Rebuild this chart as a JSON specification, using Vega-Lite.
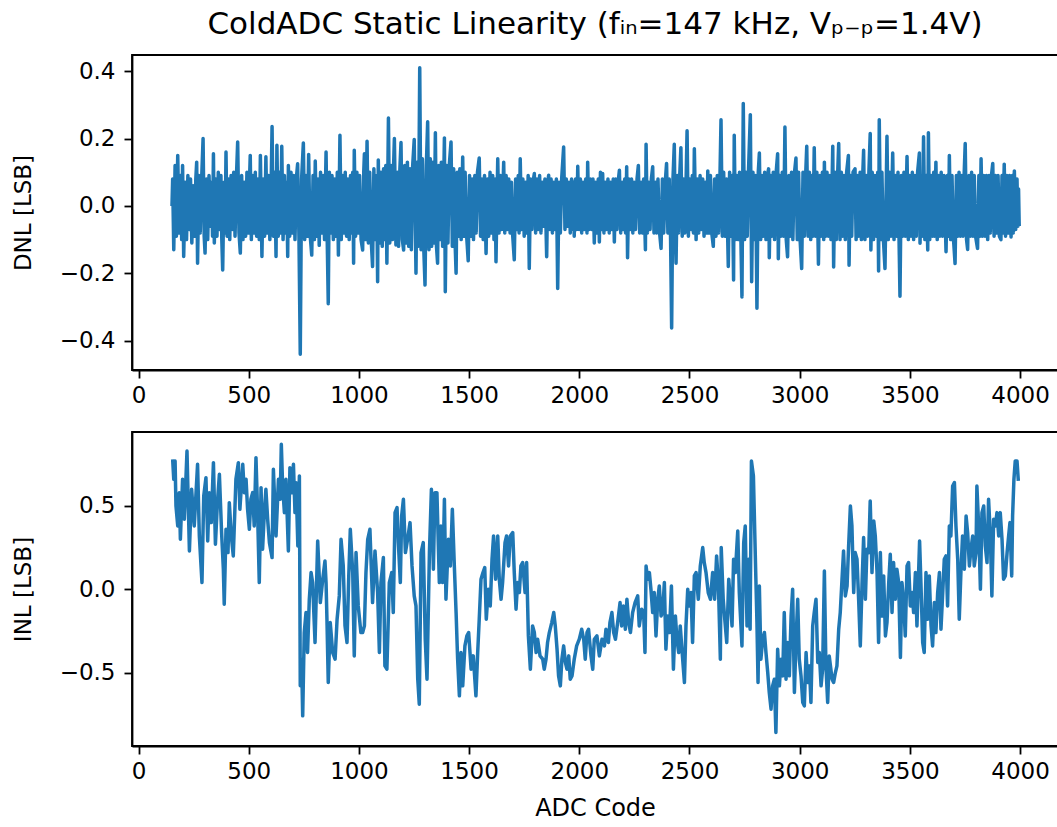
{
"$schema":"https://vega.github.io/schema/vega-lite/v6.json",
"background":"white",
"padding":{"left":11,"top":8,"right":0,"bottom":2},
"config":{
"font":"DejaVu Sans",
"view":{"stroke":"black","strokeWidth":1.8},
"axis":{"grid":false,"domainColor":"black","domainWidth":1.8,"tickColor":"black","tickWidth":1.8,"tickSize":8,"labelFont":"DejaVu Sans","labelFontSize":23,"labelColor":"black","titleFont":"DejaVu Sans","titleFontSize":24,"titleFontWeight":"normal","titleColor":"black"},
"axisX":{"labelPadding":6,"titlePadding":13},
"axisY":{"labelPadding":9,"titlePadding":24},
"line":{"color":"#1f77b4","strokeWidth":3.5,"strokeJoin":"round"}
},
"datasets":{
"dnl":[
{"c":152,"v":0.0},{"c":155,"v":0.08},{"c":160,"v":-0.13},{"c":166,"v":0.12},{"c":172,"v":-0.09},{"c":178,"v":0.15},{"c":184,"v":-0.08},{"c":190,"v":0.09},{"c":196,"v":-0.10},{"c":200,"v":0.12},{"c":205,"v":-0.15},{"c":212,"v":0.07},{"c":218,"v":-0.10},{"c":224,"v":0.09},{"c":230,"v":-0.07},{"c":236,"v":0.08},{"c":242,"v":-0.11},{"c":248,"v":0.06},{"c":254,"v":-0.09},{"c":260,"v":0.08},{"c":264,"v":0.13},{"c":268,"v":-0.17},{"c":274,"v":0.09},{"c":280,"v":-0.08},{"c":286,"v":0.07},{"c":293,"v":0.20},{"c":298,"v":-0.09},{"c":302,"v":-0.14},{"c":308,"v":0.08},{"c":314,"v":-0.10},{"c":320,"v":0.09},{"c":326,"v":-0.06},{"c":332,"v":0.07},{"c":336,"v":-0.09},{"c":340,"v":0.155},{"c":344,"v":-0.11},{"c":350,"v":0.08},{"c":356,"v":-0.09},{"c":362,"v":0.10},{"c":368,"v":-0.07},{"c":374,"v":0.09},{"c":378,"v":-0.10},{"c":382,"v":-0.19},{"c":388,"v":0.07},{"c":393,"v":-0.08},{"c":397,"v":0.16},{"c":402,"v":-0.09},{"c":408,"v":0.08},{"c":414,"v":-0.10},{"c":420,"v":0.09},{"c":426,"v":-0.07},{"c":432,"v":0.10},{"c":438,"v":-0.09},{"c":444,"v":0.08},{"c":450,"v":0.19},{"c":456,"v":-0.08},{"c":462,"v":-0.14},{"c":468,"v":0.09},{"c":474,"v":-0.10},{"c":480,"v":0.07},{"c":486,"v":-0.09},{"c":492,"v":0.10},{"c":498,"v":-0.08},{"c":503,"v":0.06},{"c":507,"v":0.15},{"c":512,"v":-0.10},{"c":518,"v":0.09},{"c":524,"v":-0.08},{"c":530,"v":0.10},{"c":536,"v":-0.09},{"c":542,"v":0.08},{"c":548,"v":-0.10},{"c":553,"v":0.15},{"c":560,"v":-0.15},{"c":566,"v":0.08},{"c":572,"v":-0.09},{"c":578,"v":0.146},{"c":584,"v":-0.08},{"c":590,"v":0.09},{"c":596,"v":-0.10},{"c":602,"v":0.07},{"c":606,"v":0.236},{"c":612,"v":-0.09},{"c":618,"v":0.10},{"c":624,"v":-0.15},{"c":628,"v":0.18},{"c":634,"v":-0.09},{"c":640,"v":0.10},{"c":645,"v":-0.08},{"c":650,"v":0.177},{"c":656,"v":-0.10},{"c":662,"v":0.09},{"c":668,"v":-0.08},{"c":672,"v":0.07},{"c":677,"v":-0.15},{"c":680,"v":0.12},{"c":686,"v":-0.09},{"c":692,"v":0.10},{"c":698,"v":-0.08},{"c":704,"v":0.09},{"c":710,"v":-0.10},{"c":716,"v":0.08},{"c":722,"v":0.125},{"c":728,"v":-0.09},{"c":734,"v":-0.44},{"c":740,"v":0.08},{"c":748,"v":0.187},{"c":754,"v":-0.10},{"c":760,"v":0.09},{"c":766,"v":-0.09},{"c":772,"v":0.153},{"c":778,"v":-0.08},{"c":786,"v":-0.146},{"c":792,"v":0.09},{"c":798,"v":-0.10},{"c":802,"v":0.133},{"c":808,"v":-0.09},{"c":814,"v":0.08},{"c":820,"v":-0.117},{"c":826,"v":0.10},{"c":832,"v":-0.08},{"c":838,"v":0.09},{"c":844,"v":-0.10},{"c":851,"v":0.16},{"c":856,"v":-0.09},{"c":861,"v":-0.29},{"c":866,"v":0.10},{"c":872,"v":-0.08},{"c":878,"v":0.09},{"c":884,"v":-0.10},{"c":890,"v":0.08},{"c":896,"v":-0.09},{"c":902,"v":0.10},{"c":907,"v":-0.146},{"c":914,"v":0.21},{"c":920,"v":-0.10},{"c":926,"v":0.09},{"c":932,"v":-0.08},{"c":938,"v":0.10},{"c":944,"v":-0.09},{"c":950,"v":0.08},{"c":956,"v":-0.10},{"c":962,"v":0.09},{"c":968,"v":-0.08},{"c":972,"v":0.10},{"c":976,"v":-0.17},{"c":979,"v":0.165},{"c":985,"v":-0.09},{"c":991,"v":0.10},{"c":997,"v":-0.08},{"c":1003,"v":0.09},{"c":1010,"v":-0.10},{"c":1017,"v":-0.131},{"c":1022,"v":0.10},{"c":1025,"v":0.155},{"c":1031,"v":-0.10},{"c":1037,"v":0.192},{"c":1043,"v":-0.11},{"c":1049,"v":0.10},{"c":1055,"v":-0.09},{"c":1062,"v":-0.18},{"c":1068,"v":0.11},{"c":1074,"v":-0.10},{"c":1080,"v":0.09},{"c":1085,"v":-0.225},{"c":1088,"v":0.136},{"c":1094,"v":-0.11},{"c":1100,"v":0.10},{"c":1106,"v":-0.12},{"c":1112,"v":0.11},{"c":1118,"v":-0.10},{"c":1122,"v":0.12},{"c":1127,"v":-0.17},{"c":1134,"v":0.261},{"c":1140,"v":-0.11},{"c":1146,"v":0.12},{"c":1152,"v":-0.10},{"c":1157,"v":0.11},{"c":1161,"v":0.20},{"c":1168,"v":-0.116},{"c":1174,"v":0.10},{"c":1180,"v":-0.12},{"c":1186,"v":0.11},{"c":1191,"v":0.188},{"c":1197,"v":-0.10},{"c":1203,"v":-0.131},{"c":1208,"v":0.12},{"c":1214,"v":-0.11},{"c":1220,"v":0.13},{"c":1226,"v":-0.12},{"c":1232,"v":0.11},{"c":1238,"v":-0.13},{"c":1244,"v":0.12},{"c":1251,"v":0.197},{"c":1259,"v":-0.20},{"c":1264,"v":0.13},{"c":1270,"v":-0.12},{"c":1276,"v":0.41},{"c":1282,"v":-0.13},{"c":1288,"v":0.14},{"c":1294,"v":-0.12},{"c":1300,"v":-0.235},{"c":1306,"v":0.12},{"c":1312,"v":0.25},{"c":1318,"v":-0.13},{"c":1324,"v":0.14},{"c":1330,"v":-0.12},{"c":1336,"v":0.13},{"c":1341,"v":-0.11},{"c":1347,"v":0.217},{"c":1352,"v":-0.12},{"c":1357,"v":-0.17},{"c":1362,"v":0.12},{"c":1368,"v":-0.10},{"c":1374,"v":0.13},{"c":1380,"v":-0.12},{"c":1388,"v":0.202},{"c":1392,"v":-0.255},{"c":1398,"v":0.12},{"c":1404,"v":-0.11},{"c":1410,"v":0.12},{"c":1418,"v":0.19},{"c":1424,"v":-0.12},{"c":1430,"v":0.11},{"c":1436,"v":-0.10},{"c":1441,"v":-0.20},{"c":1446,"v":0.10},{"c":1452,"v":-0.09},{"c":1458,"v":0.11},{"c":1464,"v":-0.10},{"c":1471,"v":0.145},{"c":1476,"v":-0.09},{"c":1482,"v":0.10},{"c":1488,"v":-0.08},{"c":1496,"v":-0.163},{"c":1502,"v":0.09},{"c":1508,"v":-0.09},{"c":1514,"v":0.08},{"c":1520,"v":-0.10},{"c":1526,"v":0.09},{"c":1532,"v":-0.08},{"c":1538,"v":0.10},{"c":1546,"v":0.142},{"c":1552,"v":-0.09},{"c":1558,"v":0.08},{"c":1564,"v":-0.10},{"c":1570,"v":0.09},{"c":1577,"v":-0.141},{"c":1583,"v":0.08},{"c":1589,"v":-0.09},{"c":1595,"v":0.10},{"c":1601,"v":-0.08},{"c":1607,"v":0.09},{"c":1613,"v":-0.10},{"c":1618,"v":0.08},{"c":1622,"v":-0.166},{"c":1630,"v":0.14},{"c":1636,"v":-0.08},{"c":1642,"v":0.09},{"c":1648,"v":-0.07},{"c":1657,"v":0.13},{"c":1662,"v":-0.08},{"c":1668,"v":0.09},{"c":1674,"v":-0.07},{"c":1680,"v":0.08},{"c":1686,"v":-0.08},{"c":1692,"v":0.07},{"c":1698,"v":-0.09},{"c":1705,"v":-0.16},{"c":1711,"v":0.08},{"c":1717,"v":-0.07},{"c":1723,"v":0.09},{"c":1727,"v":-0.08},{"c":1732,"v":0.14},{"c":1738,"v":-0.07},{"c":1744,"v":0.08},{"c":1750,"v":-0.09},{"c":1756,"v":0.07},{"c":1762,"v":-0.08},{"c":1768,"v":0.09},{"c":1773,"v":-0.186},{"c":1779,"v":0.08},{"c":1785,"v":-0.07},{"c":1790,"v":0.07},{"c":1796,"v":0.096},{"c":1802,"v":-0.08},{"c":1808,"v":0.08},{"c":1814,"v":-0.07},{"c":1820,"v":0.09},{"c":1826,"v":-0.08},{"c":1832,"v":0.07},{"c":1838,"v":-0.06},{"c":1844,"v":0.08},{"c":1852,"v":-0.151},{"c":1857,"v":0.07},{"c":1861,"v":0.091},{"c":1866,"v":-0.07},{"c":1872,"v":0.08},{"c":1878,"v":-0.08},{"c":1884,"v":0.07},{"c":1890,"v":-0.07},{"c":1896,"v":0.08},{"c":1902,"v":-0.245},{"c":1908,"v":0.07},{"c":1914,"v":-0.08},{"c":1920,"v":0.08},{"c":1929,"v":0.175},{"c":1935,"v":-0.07},{"c":1941,"v":0.08},{"c":1947,"v":-0.06},{"c":1953,"v":0.07},{"c":1959,"v":-0.08},{"c":1965,"v":0.08},{"c":1971,"v":-0.07},{"c":1974,"v":0.07},{"c":1977,"v":-0.09},{"c":1983,"v":0.08},{"c":1988,"v":-0.07},{"c":1993,"v":0.118},{"c":1999,"v":-0.07},{"c":2005,"v":0.08},{"c":2011,"v":-0.08},{"c":2017,"v":0.07},{"c":2023,"v":-0.07},{"c":2029,"v":0.08},{"c":2035,"v":-0.08},{"c":2038,"v":0.13},{"c":2044,"v":-0.07},{"c":2050,"v":0.08},{"c":2056,"v":-0.07},{"c":2062,"v":0.08},{"c":2068,"v":-0.11},{"c":2074,"v":0.07},{"c":2080,"v":-0.08},{"c":2086,"v":0.08},{"c":2091,"v":-0.107},{"c":2096,"v":0.10},{"c":2102,"v":-0.07},{"c":2106,"v":0.096},{"c":2112,"v":-0.08},{"c":2118,"v":0.07},{"c":2124,"v":-0.07},{"c":2130,"v":0.08},{"c":2136,"v":-0.08},{"c":2142,"v":0.07},{"c":2148,"v":-0.07},{"c":2154,"v":0.08},{"c":2159,"v":-0.107},{"c":2165,"v":0.08},{"c":2171,"v":-0.07},{"c":2176,"v":0.07},{"c":2182,"v":0.106},{"c":2188,"v":-0.08},{"c":2194,"v":0.07},{"c":2200,"v":-0.07},{"c":2206,"v":0.08},{"c":2210,"v":-0.08},{"c":2215,"v":0.116},{"c":2219,"v":-0.154},{"c":2225,"v":0.08},{"c":2231,"v":-0.07},{"c":2237,"v":0.08},{"c":2243,"v":-0.08},{"c":2249,"v":0.07},{"c":2255,"v":-0.07},{"c":2262,"v":0.08},{"c":2268,"v":0.12},{"c":2274,"v":-0.08},{"c":2280,"v":0.07},{"c":2286,"v":-0.08},{"c":2292,"v":0.08},{"c":2300,"v":-0.13},{"c":2303,"v":0.183},{"c":2309,"v":-0.08},{"c":2315,"v":0.07},{"c":2321,"v":-0.07},{"c":2327,"v":0.08},{"c":2333,"v":0.116},{"c":2339,"v":-0.08},{"c":2345,"v":0.07},{"c":2351,"v":-0.08},{"c":2357,"v":0.08},{"c":2363,"v":-0.07},{"c":2371,"v":-0.126},{"c":2377,"v":0.08},{"c":2383,"v":-0.08},{"c":2390,"v":0.07},{"c":2396,"v":0.126},{"c":2402,"v":-0.08},{"c":2408,"v":0.08},{"c":2414,"v":-0.09},{"c":2419,"v":-0.362},{"c":2425,"v":0.08},{"c":2431,"v":0.183},{"c":2436,"v":-0.09},{"c":2439,"v":-0.17},{"c":2445,"v":0.09},{"c":2450,"v":-0.08},{"c":2455,"v":0.08},{"c":2461,"v":0.173},{"c":2467,"v":-0.09},{"c":2473,"v":0.08},{"c":2479,"v":-0.08},{"c":2485,"v":0.09},{"c":2489,"v":0.223},{"c":2495,"v":-0.09},{"c":2501,"v":0.08},{"c":2507,"v":-0.07},{"c":2513,"v":0.09},{"c":2518,"v":-0.08},{"c":2522,"v":0.17},{"c":2530,"v":-0.10},{"c":2536,"v":0.08},{"c":2542,"v":-0.08},{"c":2548,"v":0.09},{"c":2554,"v":-0.07},{"c":2560,"v":0.08},{"c":2566,"v":-0.09},{"c":2572,"v":0.07},{"c":2578,"v":-0.08},{"c":2583,"v":0.104},{"c":2589,"v":-0.08},{"c":2595,"v":0.09},{"c":2601,"v":-0.08},{"c":2608,"v":-0.12},{"c":2614,"v":0.08},{"c":2620,"v":-0.09},{"c":2626,"v":0.09},{"c":2632,"v":-0.08},{"c":2638,"v":0.08},{"c":2643,"v":0.256},{"c":2649,"v":-0.09},{"c":2655,"v":0.10},{"c":2661,"v":-0.09},{"c":2668,"v":0.08},{"c":2676,"v":-0.18},{"c":2682,"v":0.10},{"c":2688,"v":-0.09},{"c":2694,"v":0.09},{"c":2700,"v":-0.22},{"c":2703,"v":0.21},{"c":2709,"v":-0.10},{"c":2715,"v":0.09},{"c":2721,"v":-0.10},{"c":2727,"v":0.10},{"c":2733,"v":-0.09},{"c":2738,"v":-0.27},{"c":2744,"v":0.304},{"c":2750,"v":-0.10},{"c":2756,"v":0.10},{"c":2762,"v":-0.09},{"c":2768,"v":0.11},{"c":2776,"v":0.271},{"c":2782,"v":-0.225},{"c":2788,"v":0.10},{"c":2794,"v":-0.10},{"c":2800,"v":0.09},{"c":2806,"v":-0.304},{"c":2812,"v":0.10},{"c":2817,"v":0.157},{"c":2823,"v":-0.10},{"c":2829,"v":0.09},{"c":2835,"v":-0.09},{"c":2841,"v":0.10},{"c":2847,"v":-0.10},{"c":2853,"v":0.09},{"c":2859,"v":0.11},{"c":2862,"v":-0.154},{"c":2868,"v":0.09},{"c":2874,"v":-0.09},{"c":2880,"v":0.10},{"c":2886,"v":-0.10},{"c":2892,"v":0.09},{"c":2900,"v":0.155},{"c":2903,"v":-0.157},{"c":2909,"v":0.09},{"c":2915,"v":-0.09},{"c":2921,"v":0.10},{"c":2927,"v":-0.09},{"c":2933,"v":0.234},{"c":2939,"v":-0.10},{"c":2945,"v":-0.151},{"c":2951,"v":0.09},{"c":2957,"v":-0.09},{"c":2963,"v":0.10},{"c":2969,"v":-0.10},{"c":2975,"v":0.09},{"c":2983,"v":0.142},{"c":2989,"v":-0.10},{"c":2995,"v":0.10},{"c":3001,"v":-0.09},{"c":3009,"v":-0.186},{"c":3015,"v":0.10},{"c":3021,"v":-0.09},{"c":3027,"v":0.09},{"c":3032,"v":0.177},{"c":3038,"v":-0.09},{"c":3044,"v":0.10},{"c":3050,"v":-0.10},{"c":3056,"v":0.09},{"c":3060,"v":-0.09},{"c":3066,"v":0.173},{"c":3072,"v":-0.09},{"c":3078,"v":0.10},{"c":3085,"v":-0.173},{"c":3091,"v":0.09},{"c":3097,"v":-0.09},{"c":3103,"v":0.10},{"c":3109,"v":-0.10},{"c":3112,"v":0.13},{"c":3118,"v":-0.09},{"c":3124,"v":0.10},{"c":3130,"v":-0.09},{"c":3136,"v":0.09},{"c":3142,"v":-0.10},{"c":3150,"v":0.177},{"c":3154,"v":-0.181},{"c":3160,"v":0.10},{"c":3166,"v":-0.10},{"c":3172,"v":0.09},{"c":3177,"v":0.185},{"c":3183,"v":-0.10},{"c":3189,"v":0.10},{"c":3195,"v":-0.09},{"c":3201,"v":0.09},{"c":3207,"v":-0.10},{"c":3213,"v":0.10},{"c":3221,"v":0.15},{"c":3224,"v":-0.176},{"c":3230,"v":0.09},{"c":3236,"v":-0.09},{"c":3242,"v":0.10},{"c":3251,"v":0.11},{"c":3256,"v":-0.10},{"c":3262,"v":0.09},{"c":3268,"v":-0.09},{"c":3274,"v":0.10},{"c":3280,"v":-0.10},{"c":3286,"v":0.09},{"c":3290,"v":0.165},{"c":3296,"v":-0.10},{"c":3302,"v":0.09},{"c":3308,"v":-0.09},{"c":3314,"v":0.10},{"c":3320,"v":0.215},{"c":3323,"v":-0.131},{"c":3329,"v":0.10},{"c":3335,"v":-0.10},{"c":3341,"v":0.09},{"c":3347,"v":-0.09},{"c":3354,"v":0.10},{"c":3358,"v":-0.193},{"c":3361,"v":0.256},{"c":3367,"v":-0.10},{"c":3373,"v":0.10},{"c":3379,"v":-0.09},{"c":3387,"v":-0.186},{"c":3396,"v":0.207},{"c":3402,"v":-0.10},{"c":3408,"v":0.10},{"c":3414,"v":-0.09},{"c":3422,"v":0.157},{"c":3428,"v":-0.10},{"c":3434,"v":0.09},{"c":3440,"v":-0.09},{"c":3446,"v":0.10},{"c":3455,"v":-0.268},{"c":3461,"v":0.09},{"c":3467,"v":-0.09},{"c":3473,"v":0.10},{"c":3479,"v":-0.09},{"c":3487,"v":0.147},{"c":3493,"v":-0.10},{"c":3499,"v":0.09},{"c":3505,"v":-0.09},{"c":3511,"v":0.10},{"c":3517,"v":-0.10},{"c":3523,"v":0.09},{"c":3529,"v":-0.09},{"c":3535,"v":0.10},{"c":3543,"v":0.157},{"c":3546,"v":-0.111},{"c":3552,"v":0.09},{"c":3556,"v":-0.09},{"c":3562,"v":0.205},{"c":3568,"v":-0.10},{"c":3574,"v":0.09},{"c":3581,"v":-0.131},{"c":3584,"v":0.217},{"c":3590,"v":-0.10},{"c":3596,"v":0.09},{"c":3602,"v":-0.09},{"c":3608,"v":0.10},{"c":3612,"v":-0.09},{"c":3618,"v":0.13},{"c":3624,"v":-0.10},{"c":3630,"v":0.09},{"c":3636,"v":-0.09},{"c":3642,"v":0.10},{"c":3648,"v":-0.09},{"c":3655,"v":0.09},{"c":3664,"v":-0.136},{"c":3670,"v":0.09},{"c":3675,"v":-0.09},{"c":3679,"v":0.15},{"c":3685,"v":-0.10},{"c":3691,"v":0.09},{"c":3697,"v":-0.09},{"c":3705,"v":-0.171},{"c":3711,"v":0.09},{"c":3717,"v":-0.09},{"c":3723,"v":0.10},{"c":3729,"v":-0.09},{"c":3735,"v":0.09},{"c":3741,"v":-0.09},{"c":3746,"v":0.09},{"c":3751,"v":0.185},{"c":3757,"v":-0.10},{"c":3762,"v":-0.129},{"c":3768,"v":0.09},{"c":3774,"v":-0.09},{"c":3780,"v":0.10},{"c":3786,"v":-0.09},{"c":3792,"v":0.09},{"c":3798,"v":-0.09},{"c":3807,"v":-0.126},{"c":3813,"v":0.09},{"c":3818,"v":-0.09},{"c":3823,"v":0.14},{"c":3829,"v":-0.09},{"c":3835,"v":0.09},{"c":3841,"v":-0.09},{"c":3847,"v":0.09},{"c":3853,"v":-0.10},{"c":3859,"v":0.09},{"c":3865,"v":-0.08},{"c":3870,"v":0.09},{"c":3876,"v":0.126},{"c":3882,"v":-0.09},{"c":3888,"v":0.09},{"c":3894,"v":-0.08},{"c":3900,"v":0.09},{"c":3906,"v":-0.09},{"c":3913,"v":-0.10},{"c":3918,"v":0.09},{"c":3922,"v":-0.08},{"c":3928,"v":0.124},{"c":3934,"v":-0.09},{"c":3940,"v":0.09},{"c":3946,"v":-0.08},{"c":3952,"v":0.09},{"c":3959,"v":-0.092},{"c":3965,"v":0.09},{"c":3969,"v":-0.08},{"c":3974,"v":0.104},{"c":3980,"v":-0.07},{"c":3986,"v":0.08},{"c":3990,"v":-0.06},{"c":3993,"v":0.05},{"c":3996,"v":-0.06}
],
"inl":[
{"c":155,"v":0.78},{"c":160,"v":0.66},{"c":166,"v":0.77},{"c":170,"v":0.50},{"c":178,"v":0.38},{"c":185,"v":0.58},{"c":190,"v":0.30},{"c":200,"v":0.66},{"c":208,"v":0.42},{"c":220,"v":0.83},{"c":231,"v":0.23},{"c":241,"v":0.60},{"c":253,"v":0.38},{"c":268,"v":0.75},{"c":276,"v":0.32},{"c":288,"v":0.04},{"c":296,"v":0.56},{"c":306,"v":0.67},{"c":314,"v":0.29},{"c":321,"v":0.58},{"c":330,"v":0.40},{"c":340,"v":0.76},{"c":349,"v":0.27},{"c":358,"v":0.52},{"c":367,"v":0.69},{"c":377,"v":0.34},{"c":385,"v":0.12},{"c":389,"v":-0.09},{"c":397,"v":0.36},{"c":406,"v":0.22},{"c":412,"v":0.52},{"c":421,"v":0.32},{"c":430,"v":0.20},{"c":442,"v":0.66},{"c":453,"v":0.76},{"c":460,"v":0.48},{"c":473,"v":0.75},{"c":480,"v":0.58},{"c":488,"v":0.66},{"c":495,"v":0.48},{"c":503,"v":0.36},{"c":510,"v":0.54},{"c":518,"v":0.58},{"c":525,"v":0.38},{"c":533,"v":0.79},{"c":540,"v":0.48},{"c":548,"v":0.04},{"c":556,"v":0.61},{"c":563,"v":0.24},{"c":571,"v":0.46},{"c":578,"v":0.60},{"c":586,"v":0.42},{"c":594,"v":0.28},{"c":606,"v":0.19},{"c":612,"v":0.72},{"c":620,"v":0.46},{"c":624,"v":0.32},{"c":635,"v":0.66},{"c":643,"v":0.54},{"c":648,"v":0.87},{"c":654,"v":0.62},{"c":662,"v":0.46},{"c":669,"v":0.66},{"c":680,"v":0.23},{"c":687,"v":0.73},{"c":695,"v":0.58},{"c":703,"v":0.75},{"c":710,"v":0.46},{"c":715,"v":0.64},{"c":723,"v":0.26},{"c":730,"v":0.68},{"c":734,"v":-0.58},{"c":740,"v":-0.42},{"c":745,"v":-0.76},{"c":752,"v":-0.26},{"c":760,"v":-0.14},{"c":767,"v":-0.38},{"c":775,"v":-0.06},{"c":783,"v":0.10},{"c":790,"v":0.04},{"c":801,"v":-0.32},{"c":813,"v":0.29},{"c":820,"v":0.08},{"c":825,"v":-0.08},{"c":836,"v":0.06},{"c":846,"v":0.17},{"c":851,"v":0.04},{"c":855,"v":-0.18},{"c":861,"v":-0.56},{"c":870,"v":-0.20},{"c":881,"v":-0.38},{"c":892,"v":-0.42},{"c":901,"v":-0.18},{"c":911,"v":-0.04},{"c":919,"v":0.30},{"c":929,"v":0.14},{"c":937,"v":-0.22},{"c":946,"v":-0.32},{"c":954,"v":0.08},{"c":961,"v":0.36},{"c":972,"v":0.10},{"c":979,"v":-0.40},{"c":987,"v":0.22},{"c":997,"v":-0.10},{"c":1009,"v":-0.26},
{"c":1017,"v":-0.26},{"c":1025,"v":-0.22},{"c":1032,"v":0.10},{"c":1040,"v":0.30},{"c":1050,"v":0.36},{"c":1062,"v":-0.08},{"c":1073,"v":0.23},{"c":1085,"v":-0.02},{"c":1093,"v":-0.38},{"c":1100,"v":0.04},{"c":1111,"v":0.19},{"c":1118,"v":-0.46},{"c":1127,"v":-0.48},{"c":1138,"v":0.04},{"c":1149,"v":0.10},{"c":1156,"v":-0.14},{"c":1164,"v":0.46},{"c":1173,"v":0.49},{"c":1179,"v":0.28},{"c":1188,"v":0.04},{"c":1194,"v":0.44},{"c":1202,"v":0.54},{"c":1211,"v":0.22},{"c":1221,"v":0.30},{"c":1232,"v":0.40},{"c":1241,"v":0.14},{"c":1251,"v":-0.04},{"c":1259,"v":-0.10},{"c":1267,"v":-0.54},{"c":1274,"v":-0.69},{"c":1282,"v":0.22},{"c":1292,"v":0.28},{"c":1301,"v":-0.30},{"c":1309,"v":-0.54},{"c":1320,"v":0.22},{"c":1329,"v":0.60},{"c":1338,"v":0.12},{"c":1345,"v":0.58},{"c":1354,"v":0.58},{"c":1365,"v":0.04},{"c":1372,"v":0.38},{"c":1380,"v":0.04},{"c":1388,"v":0.54},{"c":1395,"v":-0.06},{"c":1406,"v":0.30},{"c":1415,"v":0.14},{"c":1424,"v":0.48},{"c":1433,"v":0.14},{"c":1441,"v":-0.14},{"c":1448,"v":-0.42},{"c":1456,"v":-0.64},{"c":1463,"v":-0.38},{"c":1471,"v":-0.58},{"c":1481,"v":-0.34},{"c":1490,"v":-0.28},{"c":1498,"v":-0.26},{"c":1509,"v":-0.48},{"c":1519,"v":-0.40},{"c":1531,"v":-0.64},{"c":1539,"v":-0.38},{"c":1546,"v":-0.18},{"c":1554,"v":0.06},{"c":1563,"v":0.10},{"c":1571,"v":0.13},{"c":1578,"v":-0.18},{"c":1587,"v":0.00},{"c":1596,"v":-0.10},{"c":1604,"v":0.18},{"c":1611,"v":0.32},{"c":1620,"v":0.06},{"c":1630,"v":0.32},{"c":1637,"v":0.06},{"c":1645,"v":-0.06},{"c":1652,"v":0.04},{"c":1663,"v":0.28},{"c":1670,"v":0.32},{"c":1679,"v":0.14},{"c":1687,"v":0.32},{"c":1698,"v":0.34},{"c":1705,"v":0.10},{"c":1713,"v":-0.12},{"c":1720,"v":0.04},{"c":1728,"v":-0.02},{"c":1735,"v":0.14},{"c":1743,"v":0.16},{"c":1754,"v":-0.02},{"c":1761,"v":0.16},{"c":1769,"v":-0.28},{"c":1778,"v":-0.48},{"c":1788,"v":-0.22},{"c":1796,"v":-0.26},{"c":1804,"v":-0.38},{"c":1811,"v":-0.30},{"c":1822,"v":-0.40},{"c":1834,"v":-0.42},{"c":1841,"v":-0.48},{"c":1849,"v":-0.42},{"c":1856,"v":-0.32},{"c":1864,"v":-0.26},{"c":1875,"v":-0.20},{"c":1884,"v":-0.14},{"c":1891,"v":-0.22},{"c":1899,"v":-0.36},{"c":1906,"v":-0.52},{"c":1914,"v":-0.58},{"c":1921,"v":-0.42},{"c":1929,"v":-0.34},{"c":1937,"v":-0.44},{"c":1944,"v":-0.48},{"c":1952,"v":-0.40},{"c":1959,"v":-0.54},{"c":1967,"v":-0.52},{"c":1977,"v":-0.42},{"c":1988,"v":-0.34},{"c":2000,"v":-0.30},{"c":2011,"v":-0.24},{"c":2020,"v":-0.30},{"c":2027,"v":-0.42},{"c":2035,"v":-0.26},{"c":2042,"v":-0.24},{"c":2053,"v":-0.40},{"c":2061,"v":-0.48},{"c":2068,"v":-0.30},{"c":2080,"v":-0.28},{"c":2091,"v":-0.40},
{"c":2103,"v":-0.30},{"c":2114,"v":-0.34},{"c":2121,"v":-0.24},{"c":2132,"v":-0.32},{"c":2139,"v":-0.20},{"c":2148,"v":-0.14},{"c":2156,"v":-0.26},{"c":2164,"v":-0.30},{"c":2174,"v":-0.20},{"c":2185,"v":-0.08},{"c":2192,"v":-0.22},{"c":2200,"v":-0.10},{"c":2209,"v":-0.24},{"c":2216,"v":-0.06},{"c":2224,"v":-0.20},{"c":2232,"v":-0.26},{"c":2242,"v":-0.14},{"c":2253,"v":-0.08},{"c":2265,"v":-0.04},{"c":2272,"v":-0.22},{"c":2283,"v":-0.12},{"c":2292,"v":-0.14},{"c":2298,"v":-0.38},{"c":2303,"v":0.14},{"c":2310,"v":0.06},{"c":2318,"v":0.10},{"c":2325,"v":0.00},{"c":2333,"v":-0.14},{"c":2340,"v":-0.02},{"c":2348,"v":-0.28},{"c":2356,"v":-0.06},{"c":2363,"v":0.02},{"c":2371,"v":-0.16},{"c":2378,"v":-0.14},{"c":2386,"v":0.04},{"c":2393,"v":-0.36},{"c":2401,"v":-0.16},{"c":2409,"v":-0.26},{"c":2418,"v":0.02},{"c":2427,"v":-0.48},{"c":2436,"v":-0.16},{"c":2443,"v":-0.30},{"c":2451,"v":-0.38},{"c":2458,"v":-0.22},{"c":2469,"v":-0.42},{"c":2477,"v":-0.56},{"c":2484,"v":-0.22},{"c":2492,"v":0.00},{"c":2499,"v":-0.10},{"c":2507,"v":-0.02},{"c":2514,"v":-0.32},{"c":2522,"v":0.08},{"c":2530,"v":0.10},{"c":2540,"v":-0.06},{"c":2549,"v":0.14},{"c":2560,"v":0.25},{"c":2567,"v":0.16},{"c":2575,"v":0.10},{"c":2585,"v":-0.02},{"c":2595,"v":-0.06},{"c":2605,"v":0.10},{"c":2614,"v":-0.06},{"c":2623,"v":0.20},{"c":2631,"v":0.04},{"c":2640,"v":-0.42},{"c":2644,"v":0.25},{"c":2653,"v":-0.06},{"c":2660,"v":-0.18},{"c":2669,"v":-0.32},{"c":2678,"v":0.06},{"c":2685,"v":-0.06},{"c":2693,"v":-0.22},{"c":2700,"v":0.18},{"c":2708,"v":0.10},{"c":2719,"v":0.35},{"c":2726,"v":-0.02},{"c":2738,"v":-0.34},{"c":2746,"v":0.28},{"c":2753,"v":0.38},{"c":2761,"v":-0.22},{"c":2768,"v":0.18},{"c":2775,"v":-0.24},{"c":2781,"v":0.77},{"c":2790,"v":0.68},{"c":2799,"v":0.18},{"c":2806,"v":-0.20},{"c":2811,"v":-0.56},{"c":2817,"v":0.02},{"c":2824,"v":-0.42},{"c":2832,"v":-0.30},{"c":2840,"v":-0.26},{"c":2847,"v":-0.38},{"c":2855,"v":-0.50},{"c":2862,"v":-0.62},{"c":2870,"v":-0.72},{"c":2877,"v":-0.58},{"c":2885,"v":-0.54},{"c":2892,"v":-0.86},{"c":2900,"v":-0.36},{"c":2908,"v":-0.58},{"c":2915,"v":-0.42},{"c":2923,"v":-0.52},{"c":2930,"v":-0.14},{"c":2938,"v":-0.54},{"c":2945,"v":-0.32},{"c":2953,"v":-0.52},{"c":2961,"v":-0.16},{"c":2968,"v":0.00},{"c":2976,"v":-0.62},{"c":2983,"v":-0.32},{"c":2991,"v":-0.06},{"c":2998,"v":-0.42},{"c":3006,"v":-0.52},{"c":3014,"v":-0.68},{"c":3021,"v":-0.70},{"c":3029,"v":-0.38},{"c":3036,"v":-0.56},{"c":3044,"v":-0.46},{"c":3051,"v":-0.68},{"c":3059,"v":-0.22},{"c":3066,"v":-0.14},{"c":3074,"v":-0.06},{"c":3082,"v":-0.44},{"c":3089,"v":-0.38},{"c":3097,"v":-0.58},{"c":3104,"v":-0.48},{"c":3112,"v":0.11},{"c":3119,"v":-0.46},{"c":3127,"v":-0.68},{"c":3134,"v":-0.40},
{"c":3147,"v":-0.54},{"c":3154,"v":-0.56},{"c":3162,"v":-0.50},{"c":3169,"v":-0.46},{"c":3177,"v":-0.24},{"c":3184,"v":-0.14},{"c":3192,"v":0.06},{"c":3199,"v":0.23},{"c":3207,"v":-0.04},{"c":3215,"v":0.02},{"c":3222,"v":0.26},{"c":3230,"v":0.50},{"c":3237,"v":0.38},{"c":3245,"v":-0.02},{"c":3252,"v":0.22},{"c":3260,"v":0.18},{"c":3268,"v":-0.08},{"c":3275,"v":-0.34},{"c":3283,"v":0.04},{"c":3290,"v":0.31},{"c":3298,"v":-0.06},{"c":3305,"v":0.24},{"c":3313,"v":0.22},{"c":3320,"v":0.53},{"c":3328,"v":0.10},{"c":3336,"v":0.41},{"c":3343,"v":0.32},{"c":3351,"v":0.10},{"c":3358,"v":-0.32},{"c":3366,"v":0.22},{"c":3373,"v":-0.16},{"c":3381,"v":0.08},{"c":3389,"v":-0.28},{"c":3396,"v":-0.20},{"c":3404,"v":0.04},{"c":3411,"v":0.21},{"c":3419,"v":-0.14},{"c":3426,"v":0.16},{"c":3434,"v":-0.06},{"c":3441,"v":0.12},{"c":3449,"v":0.04},{"c":3457,"v":-0.41},{"c":3464,"v":0.04},{"c":3472,"v":-0.08},{"c":3479,"v":-0.28},{"c":3487,"v":0.14},{"c":3494,"v":0.16},{"c":3502,"v":-0.10},{"c":3510,"v":-0.02},{"c":3517,"v":-0.14},{"c":3525,"v":0.10},{"c":3532,"v":-0.22},{"c":3540,"v":0.12},{"c":3544,"v":0.29},{"c":3550,"v":0.04},{"c":3558,"v":-0.32},{"c":3565,"v":-0.38},{"c":3573,"v":0.10},{"c":3581,"v":-0.18},{"c":3588,"v":0.08},{"c":3596,"v":-0.22},{"c":3603,"v":-0.34},{"c":3611,"v":-0.08},{"c":3618,"v":-0.26},{"c":3626,"v":-0.02},{"c":3634,"v":0.10},{"c":3641,"v":-0.24},{"c":3649,"v":-0.02},{"c":3656,"v":0.18},{"c":3664,"v":0.20},{"c":3671,"v":-0.10},{"c":3679,"v":0.38},{"c":3686,"v":0.32},{"c":3694,"v":0.62},{"c":3702,"v":0.64},{"c":3709,"v":0.38},{"c":3717,"v":0.18},{"c":3724,"v":-0.18},{"c":3732,"v":0.12},{"c":3739,"v":0.32},{"c":3747,"v":0.12},{"c":3755,"v":0.44},{"c":3762,"v":0.34},{"c":3770,"v":0.14},{"c":3777,"v":0.24},{"c":3785,"v":0.32},{"c":3792,"v":0.14},{"c":3800,"v":0.22},{"c":3804,"v":0.62},{"c":3812,"v":0.38},{"c":3820,"v":0.00},{"c":3827,"v":0.46},{"c":3835,"v":0.50},{"c":3842,"v":0.26},{"c":3850,"v":0.16},{"c":3857,"v":0.54},{"c":3865,"v":0.32},{"c":3872,"v":-0.04},{"c":3880,"v":0.42},{"c":3888,"v":0.38},{"c":3895,"v":0.46},{"c":3903,"v":0.32},{"c":3910,"v":0.46},{"c":3918,"v":0.30},{"c":3925,"v":0.06},{"c":3933,"v":0.08},{"c":3941,"v":0.22},{"c":3948,"v":0.32},{"c":3954,"v":0.40},{"c":3962,"v":0.08},{"c":3966,"v":0.44},{"c":3972,"v":0.66},{"c":3978,"v":0.77},{"c":3986,"v":0.77},{"c":3992,"v":0.65}
]
},
"spacing":23,
"vconcat":[
{
"width":926,"height":315,
"title":{"text":"ColdADC Static Linearity (fᵢₙ=147 kHz, Vₚ₋ₚ=1.4V)","fontSize":31,"font":"DejaVu Sans","fontWeight":"normal","color":"black","anchor":"middle","frame":"group","offset":14},
"data":{"name":"dnl"},
"mark":{"type":"line","clip":true},
"encoding":{
"x":{"field":"c","type":"quantitative","scale":{"domain":[-29.5,4172],"nice":false,"zero":false},"axis":{"values":[0,500,1000,1500,2000,2500,3000,3500,4000],"format":"d","title":null}},
"y":{"field":"v","type":"quantitative","scale":{"domain":[-0.487,0.448],"nice":false,"zero":false},"axis":{"values":[-0.4,-0.2,0,0.2,0.4],"format":".1f","title":"DNL [LSB]","titleFontSize":23}}
}
},
{
"width":926,"height":314,
"data":{"name":"inl"},
"mark":{"type":"line","clip":true},
"encoding":{
"x":{"field":"c","type":"quantitative","scale":{"domain":[-29.5,4172],"nice":false,"zero":false},"axis":{"values":[0,500,1000,1500,2000,2500,3000,3500,4000],"format":"d","title":"ADC Code"}},
"y":{"field":"v","type":"quantitative","scale":{"domain":[-0.941,0.944],"nice":false,"zero":false},"axis":{"values":[-0.5,0,0.5],"format":".1f","title":"INL [LSB]","titleFontSize":23}}
}
}
]
}
